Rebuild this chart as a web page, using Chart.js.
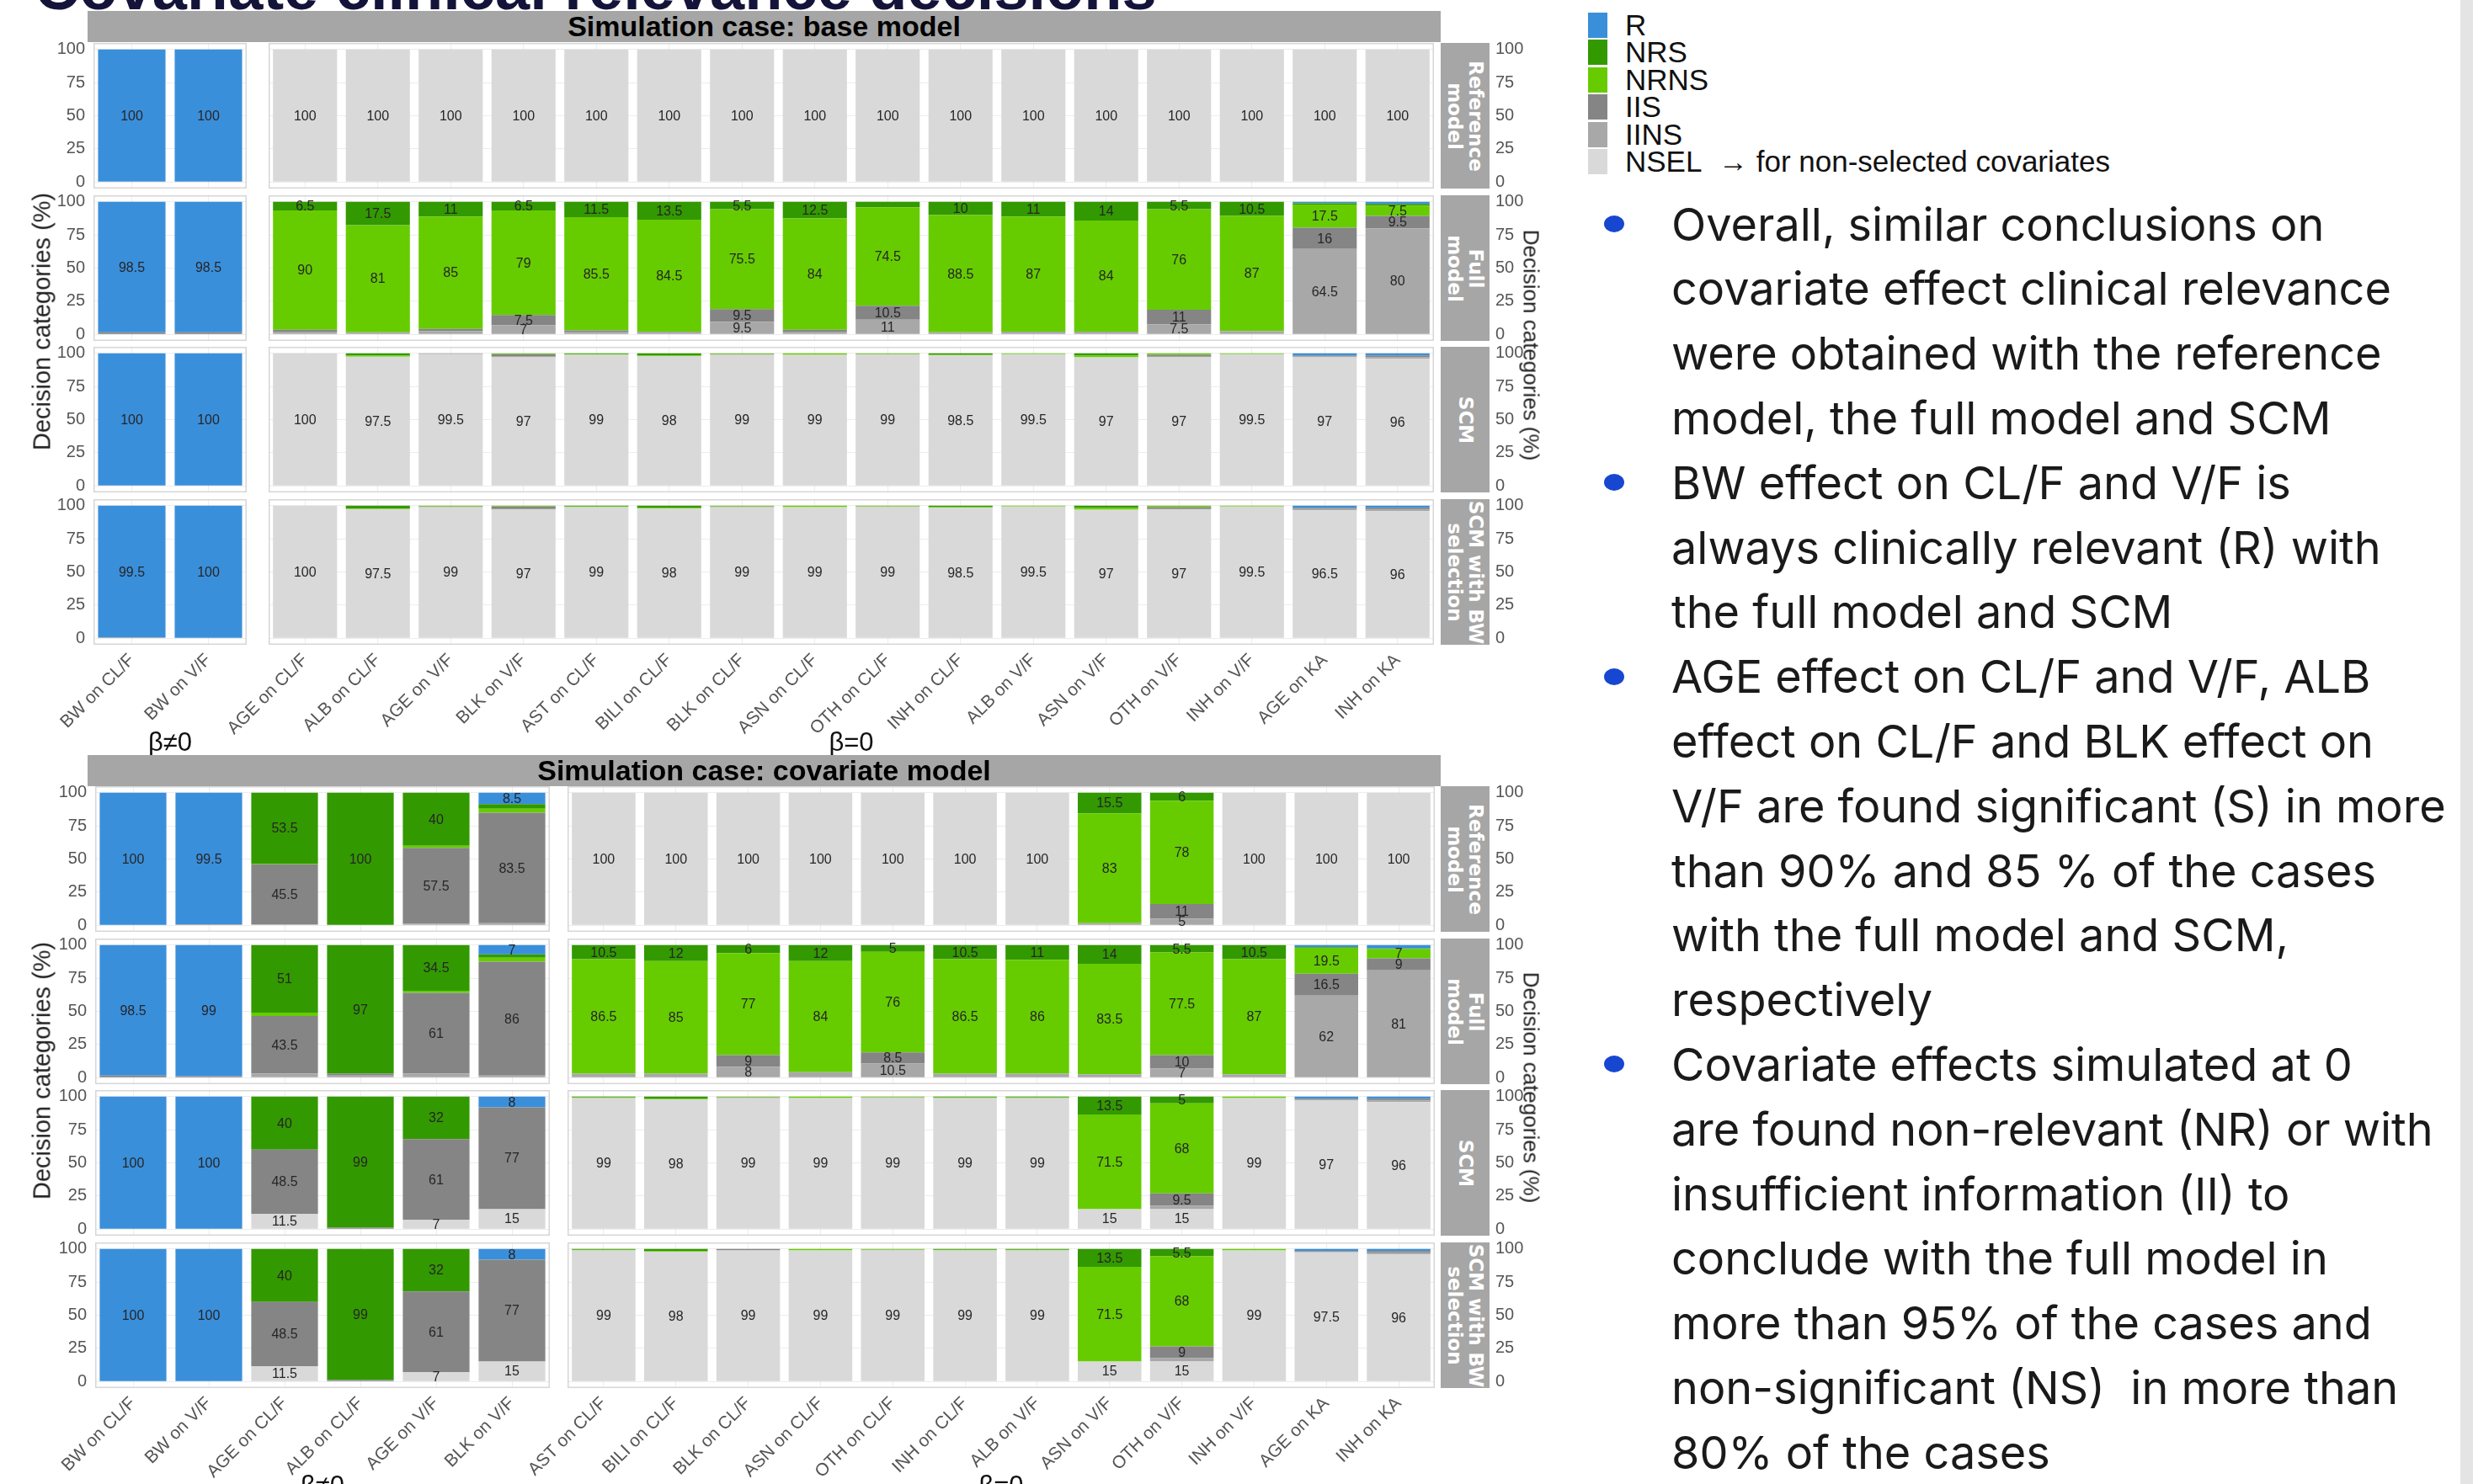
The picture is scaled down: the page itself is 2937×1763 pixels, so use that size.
<!DOCTYPE html>
<html>
<head>
<meta charset="utf-8">
<script src="https://cdn.jsdelivr.net/npm/chart.js@4.4.1/dist/chart.umd.min.js"></script>
<style>
  html, body { margin: 0; padding: 0; background: #fff; }
  body { width: 2937px; height: 1763px; overflow: hidden; position: relative; font-family: "Liberation Sans", Arial, sans-serif; }
  .abs { position: absolute; }
  canvas.panel { position: absolute; }
  .bar-title { position: absolute; background: #A6A6A6; color: #000; font-weight: bold; font-size: 34px; text-align: center; line-height: 37px; }
  .strip { position: absolute; background: #A6A6A6; overflow: hidden; }
  .strip span { position: absolute; left: 50%; top: 50%; transform: translate(-50%, -50%) rotate(90deg); color: #fff; font-family: "DejaVu Sans", sans-serif; font-weight: bold; font-size: 23px; line-height: 25px; text-align: center; white-space: pre; }
  .rot { position: absolute; white-space: nowrap; transform: translate(-50%, -50%) rotate(-90deg); }
  .rotcw { position: absolute; white-space: nowrap; transform: translate(-50%, -50%) rotate(90deg); }
  .legend-sw { position: absolute; left: 1886px; width: 23px; height: 30px; }
  .legend-tx { position: absolute; left: 1930px; font-size: 35px; line-height: 35px; color: #111; white-space: nowrap; }
  .bul-line { position: absolute; left: 1985px; font-family: Inter, "Open Sans", sans-serif; font-size: 54px; line-height: 77px; color: #1a1a1a; white-space: pre; }
  .dot { position: absolute; width: 24px; height: 20px; border-radius: 50%; background: #1747D0; }
</style>
</head>
<body>
<div class="abs" style="left:41px; top:-51px; font-weight:bold; font-size:74px; line-height:74px; color:#14143a; white-space:nowrap;">Covariate clinical relevance decisions</div>
<div class="abs" style="left:2922px; top:0; width:15px; height:1763px; background:#E4E4E4;"></div>
<script>
// ---- decision categories (stack order from top to bottom in the legend) ----
const DECISIONS = ['R', 'NRS', 'NRNS', 'IIS', 'IINS', 'NSEL'];
const DECISION_COLORS = ['#3A8FDB', '#339900', '#66CC00', '#858585', '#A8A8A8', '#D9D9D9'];
const MODEL_ROWS = ['Reference\nmodel', 'Full\nmodel', 'SCM', 'SCM with BW\nselection'];
const Y_TICKS = [0, 25, 50, 75, 100];

// ---- covariate effects on the x axis ----
const BASE_CATS_NONZERO = ['BW on CL/F', 'BW on V/F'];
const BASE_CATS_ZERO = ['AGE on CL/F', 'ALB on CL/F', 'AGE on V/F', 'BLK on V/F', 'AST on CL/F', 'BILI on CL/F', 'BLK on CL/F', 'ASN on CL/F', 'OTH on CL/F', 'INH on CL/F', 'ALB on V/F', 'ASN on V/F', 'OTH on V/F', 'INH on V/F', 'AGE on KA', 'INH on KA'];
const COV_CATS_NONZERO = ['BW on CL/F', 'BW on V/F', 'AGE on CL/F', 'ALB on CL/F', 'AGE on V/F', 'BLK on V/F'];
const COV_CATS_ZERO = ['AST on CL/F', 'BILI on CL/F', 'BLK on CL/F', 'ASN on CL/F', 'OTH on CL/F', 'INH on CL/F', 'ALB on V/F', 'ASN on V/F', 'OTH on V/F', 'INH on V/F', 'AGE on KA', 'INH on KA'];

// ---- Simulation case: base model (values in %, BW first, then beta = 0 effects) ----
const BASE_REF_R    = [100, 100, 0, 0, 0, 0, 0, 0, 0, 0, 0, 0, 0, 0, 0, 0, 0, 0];
const BASE_REF_NRS  = [0, 0, 0, 0, 0, 0, 0, 0, 0, 0, 0, 0, 0, 0, 0, 0, 0, 0];
const BASE_REF_NRNS = [0, 0, 0, 0, 0, 0, 0, 0, 0, 0, 0, 0, 0, 0, 0, 0, 0, 0];
const BASE_REF_IIS  = [0, 0, 0, 0, 0, 0, 0, 0, 0, 0, 0, 0, 0, 0, 0, 0, 0, 0];
const BASE_REF_IINS = [0, 0, 0, 0, 0, 0, 0, 0, 0, 0, 0, 0, 0, 0, 0, 0, 0, 0];
const BASE_REF_NSEL = [0, 0, 100, 100, 100, 100, 100, 100, 100, 100, 100, 100, 100, 100, 100, 100, 100, 100];

const BASE_FULL_R    = [98.5, 98.5, 0, 0, 0, 0, 0, 0, 0, 0, 0, 0, 0, 0, 0, 0, 1, 1.5];
const BASE_FULL_NRS  = [0, 0, 6.5, 17.5, 11, 6.5, 11.5, 13.5, 5.5, 12.5, 4, 10, 11, 14, 5.5, 10.5, 1, 1.5];
const BASE_FULL_NRNS = [0, 0, 90, 81, 85, 79, 85.5, 84.5, 75.5, 84, 74.5, 88.5, 87, 84, 76, 87, 17.5, 7.5];
const BASE_FULL_IIS  = [1.5, 1.5, 1.5, 0, 1.5, 7.5, 1, 0, 9.5, 1.5, 10.5, 0, 0, 0, 11, 0, 16, 9.5];
const BASE_FULL_IINS = [0, 0, 2, 1.5, 2.5, 7, 2, 2, 9.5, 2, 11, 1.5, 2, 2, 7.5, 2.5, 64.5, 80];
const BASE_FULL_NSEL = [0, 0, 0, 0, 0, 0, 0, 0, 0, 0, 0, 0, 0, 0, 0, 0, 0, 0];

const BASE_SCM_R    = [100, 100, 0, 0, 0, 0, 0, 0, 0, 0, 0, 0, 0, 0, 0, 0, 1.5, 1.5];
const BASE_SCM_NRS  = [0, 0, 0, 1.5, 0, 0, 0.5, 1.5, 0, 0, 0, 1, 0, 1.5, 0, 0, 0, 0];
const BASE_SCM_NRNS = [0, 0, 0, 1, 0, 0.5, 0.5, 0.5, 0.5, 1, 0.5, 0.5, 0.5, 1.5, 1, 0.5, 0, 0];
const BASE_SCM_IIS  = [0, 0, 0, 0, 0, 1.5, 0, 0, 0.5, 0, 0, 0, 0, 0, 1.5, 0, 0.5, 1.5];
const BASE_SCM_IINS = [0, 0, 0, 0, 0.5, 1, 0, 0, 0, 0, 0.5, 0, 0, 0, 0.5, 0, 1, 1];
const BASE_SCM_NSEL = [0, 0, 100, 97.5, 99.5, 97, 99, 98, 99, 99, 99, 98.5, 99.5, 97, 97, 99.5, 97, 96];

const BASE_SCMBW_R    = [99.5, 100, 0, 0, 0, 0, 0, 0, 0, 0, 0, 0, 0, 0, 0, 0, 1.5, 1.5];
const BASE_SCMBW_NRS  = [0, 0, 0, 2, 0, 0, 0.5, 1.5, 0, 0, 0, 1, 0, 1.5, 0, 0, 0, 0];
const BASE_SCMBW_NRNS = [0, 0, 0, 0.5, 0.5, 0.5, 0.5, 0.5, 0.5, 1, 0.5, 0.5, 0.5, 1.5, 1, 0.5, 0, 0];
const BASE_SCMBW_IIS  = [0.5, 0, 0, 0, 0.5, 2, 0, 0, 0.5, 0, 0, 0, 0, 0, 1.5, 0, 1, 1.5];
const BASE_SCMBW_IINS = [0, 0, 0, 0, 0, 0.5, 0, 0, 0, 0, 0.5, 0, 0, 0, 0.5, 0, 1, 1];
const BASE_SCMBW_NSEL = [0, 0, 100, 97.5, 99, 97, 99, 98, 99, 99, 99, 98.5, 99.5, 97, 97, 99.5, 96.5, 96];

// ---- Simulation case: covariate model (six effects with beta != 0, then beta = 0 effects) ----
const COV_REF_R    = [100, 99.5, 0, 0, 0, 8.5, 0, 0, 0, 0, 0, 0, 0, 0, 0, 0, 0, 0];
const COV_REF_NRS  = [0, 0, 53.5, 100, 40, 3.5, 0, 0, 0, 0, 0, 0, 0, 15.5, 6, 0, 0, 0];
const COV_REF_NRNS = [0, 0, 0.5, 0, 1.5, 3, 0, 0, 0, 0, 0, 0, 0, 83, 78, 0, 0, 0];
const COV_REF_IIS  = [0, 0.5, 45.5, 0, 57.5, 83.5, 0, 0, 0, 0, 0, 0, 0, 0, 11, 0, 0, 0];
const COV_REF_IINS = [0, 0, 0.5, 0, 1, 1.5, 0, 0, 0, 0, 0, 0, 0, 1.5, 5, 0, 0, 0];
const COV_REF_NSEL = [0, 0, 0, 0, 0, 0, 100, 100, 100, 100, 100, 100, 100, 0, 0, 100, 100, 100];

const COV_FULL_R    = [98.5, 99, 0, 0, 0, 7, 0, 0, 0, 0, 0, 0, 0, 0, 0, 0, 1.5, 2.5];
const COV_FULL_NRS  = [0, 0, 51, 97, 34.5, 2.5, 10.5, 12, 6, 12, 5, 10.5, 11, 14, 5.5, 10.5, 0.5, 0.5];
const COV_FULL_NRNS = [0, 0, 2.5, 0, 1.5, 3, 86.5, 85, 77, 84, 76, 86.5, 86, 83.5, 77.5, 87, 19.5, 7];
const COV_FULL_IIS  = [1.5, 1, 43.5, 1.5, 61, 86, 0, 0, 9, 0, 8.5, 0, 0, 0, 10, 0, 16.5, 9];
const COV_FULL_IINS = [0, 0, 3, 1.5, 3, 1.5, 3, 3, 8, 4, 10.5, 3, 3, 2.5, 7, 2.5, 62, 81];
const COV_FULL_NSEL = [0, 0, 0, 0, 0, 0, 0, 0, 0, 0, 0, 0, 0, 0, 0, 0, 0, 0];

const COV_SCM_R    = [100, 100, 0, 0, 0, 8, 0, 0, 0, 0, 0, 0, 0, 0, 0, 0, 1.5, 1.5];
const COV_SCM_NRS  = [0, 0, 40, 99, 32, 0, 0.5, 1.5, 0, 0, 0, 0.5, 0.5, 13.5, 5, 0, 0, 0];
const COV_SCM_NRNS = [0, 0, 0, 0, 0, 0, 0.5, 0.5, 0.5, 1, 0.5, 0.5, 0.5, 71.5, 68, 1, 0, 0];
const COV_SCM_IIS  = [0, 0, 48.5, 1, 61, 77, 0, 0, 0.5, 0, 0, 0, 0, 0, 9.5, 0, 0.5, 1.5];
const COV_SCM_IINS = [0, 0, 0, 0, 0, 0, 0, 0, 0, 0, 0.5, 0, 0, 0, 2.5, 0, 1, 1];
const COV_SCM_NSEL = [0, 0, 11.5, 0, 7, 15, 99, 98, 99, 99, 99, 99, 99, 15, 15, 99, 97, 96];

const COV_SCMBW_R    = [100, 100, 0, 0, 0, 8, 0, 0, 0, 0, 0, 0, 0, 0, 0, 0, 1.5, 1.5];
const COV_SCMBW_NRS  = [0, 0, 40, 99, 32, 0, 0.5, 1.5, 0, 0, 0, 0.5, 0.5, 13.5, 5.5, 0, 0, 0];
const COV_SCMBW_NRNS = [0, 0, 0, 0, 0, 0, 0.5, 0.5, 0, 1, 0.5, 0.5, 0.5, 71.5, 68, 1, 0, 0];
const COV_SCMBW_IIS  = [0, 0, 48.5, 1, 61, 77, 0, 0, 1, 0, 0, 0, 0, 0, 9, 0, 0.5, 1.5];
const COV_SCMBW_IINS = [0, 0, 0, 0, 0, 0, 0, 0, 0, 0, 0.5, 0, 0, 0, 2.5, 0, 0.5, 1];
const COV_SCMBW_NSEL = [0, 0, 11.5, 0, 7, 15, 99, 98, 99, 99, 99, 99, 99, 15, 15, 99, 97.5, 96];

// series per model row, in DECISIONS order
const BASE_ROWS = [
  [BASE_REF_R, BASE_REF_NRS, BASE_REF_NRNS, BASE_REF_IIS, BASE_REF_IINS, BASE_REF_NSEL],
  [BASE_FULL_R, BASE_FULL_NRS, BASE_FULL_NRNS, BASE_FULL_IIS, BASE_FULL_IINS, BASE_FULL_NSEL],
  [BASE_SCM_R, BASE_SCM_NRS, BASE_SCM_NRNS, BASE_SCM_IIS, BASE_SCM_IINS, BASE_SCM_NSEL],
  [BASE_SCMBW_R, BASE_SCMBW_NRS, BASE_SCMBW_NRNS, BASE_SCMBW_IIS, BASE_SCMBW_IINS, BASE_SCMBW_NSEL]
];
const COV_ROWS = [
  [COV_REF_R, COV_REF_NRS, COV_REF_NRNS, COV_REF_IIS, COV_REF_IINS, COV_REF_NSEL],
  [COV_FULL_R, COV_FULL_NRS, COV_FULL_NRNS, COV_FULL_IIS, COV_FULL_IINS, COV_FULL_NSEL],
  [COV_SCM_R, COV_SCM_NRS, COV_SCM_NRNS, COV_SCM_IIS, COV_SCM_IINS, COV_SCM_NSEL],
  [COV_SCMBW_R, COV_SCMBW_NRS, COV_SCMBW_NRNS, COV_SCMBW_IIS, COV_SCMBW_IINS, COV_SCMBW_NSEL]
];

// ---------------- layout ----------------
const PANEL_H = 173;
const Y_MIN = -5, Y_MAX = 105;
const GRID = 'rgba(0,0,0,0.07)';
const STRIP_X = 1711, STRIP_W = 58;
const RIGHT_LABEL_X = 1776;

const BLOCKS = [
  { title: 'Simulation case: base model', titleY: 13, rowTops: [51, 232, 412, 593],
    rows: BASE_ROWS, cats: [BASE_CATS_NONZERO, BASE_CATS_ZERO],
    left: { x: 111, w: 182 }, right: { x: 319, w: 1384 },
    yTitleL: 382, yTitleR: 410 },
  { title: 'Simulation case: covariate model', titleY: 897, rowTops: [934, 1115, 1295, 1476],
    rows: COV_ROWS, cats: [COV_CATS_NONZERO, COV_CATS_ZERO],
    left: { x: 113, w: 540 }, right: { x: 674, w: 1030 },
    yTitleL: 1272, yTitleR: 1292 }
];

const framePlugin = {
  id: 'panelFrame',
  beforeDatasetsDraw(chart) {
    const { ctx, chartArea: a } = chart;
    ctx.save();
    ctx.strokeStyle = '#D6D6D6';
    ctx.lineWidth = 1.5;
    ctx.strokeRect(a.left + 0.75, a.top + 0.75, a.width - 1.5, a.height - 1.5);
    ctx.restore();
  }
};

const valuePlugin = {
  id: 'segmentValues',
  afterDatasetsDraw(chart) {
    const ctx = chart.ctx;
    ctx.save();
    ctx.font = '16px "Liberation Sans", Arial, sans-serif';
    ctx.fillStyle = '#262626';
    ctx.textAlign = 'center';
    ctx.textBaseline = 'middle';
    chart.data.datasets.forEach((ds, di) => {
      chart.getDatasetMeta(di).data.forEach((bar, i) => {
        const v = ds.data[i];
        if (v >= 5) {
          const p = bar.getProps(['x', 'y', 'base'], true);
          ctx.fillText(String(v), p.x, (p.y + p.base) / 2 + 1);
        }
      });
    });
    ctx.restore();
  }
};

function addPanel(opts) {
  const { x, w, top, labels, values, side, showX } = opts;
  const padT = 14;
  const xh = showX ? 150 : 0;
  const padB = showX ? 0 : 14;
  const axisW = side === 'left' ? 60 : (RIGHT_LABEL_X + 45 - (x + w));
  const padL = side === 'left' ? 50 : (showX ? 170 : 4);
  const padR = side === 'left' ? 4 : 0;
  const cLeft = side === 'left' ? x - axisW - padL : x - padL;
  const cw = side === 'left' ? padL + axisW + w + padR : padL + w + axisW;
  const ch = padT + PANEL_H + xh + padB;

  const cv = document.createElement('canvas');
  cv.className = 'panel';
  cv.width = cw; cv.height = ch;
  cv.style.left = cLeft + 'px';
  cv.style.top = (top - padT) + 'px';
  cv.style.width = cw + 'px'; cv.style.height = ch + 'px';
  document.body.appendChild(cv);

  // draw from the bottom of the stack upward: NSEL ... R
  const datasets = DECISIONS.map((d, k) => ({
    label: d,
    data: values[k],
    backgroundColor: DECISION_COLORS[k],
    borderWidth: 0,
    barPercentage: 0.88,
    categoryPercentage: 1
  })).reverse();

  new Chart(cv, {
    type: 'bar',
    data: { labels, datasets },
    options: {
      responsive: false,
      animation: false,
      devicePixelRatio: 1,
      layout: { padding: { left: padL, right: padR, top: padT, bottom: padB } },
      plugins: { legend: { display: false }, tooltip: { enabled: false } },
      scales: {
        x: {
          stacked: true,
          offset: true,
          grid: { offset: false, color: GRID, drawTicks: false },
          border: { display: false },
          ticks: {
            display: showX, autoSkip: false, minRotation: 45, maxRotation: 45, padding: 6,
            color: '#555', font: { family: '"Liberation Sans", Arial, sans-serif', size: 21 }
          },
          afterFit(s) { s.height = xh; s.paddingLeft = 0; s.paddingRight = 0; s.paddingTop = 0; s.paddingBottom = 0; }
        },
        y: {
          stacked: true,
          min: Y_MIN, max: Y_MAX,
          position: side === 'left' ? 'left' : 'right',
          afterBuildTicks(s) { s.ticks = Y_TICKS.map(v => ({ value: v })); },
          grid: { color: GRID, drawTicks: false },
          border: { display: false },
          ticks: {
            padding: side === 'left' ? 10 : (RIGHT_LABEL_X - (x + w)),
            color: '#555', font: { family: '"Liberation Sans", Arial, sans-serif', size: 20 },
            callback: v => String(v)
          },
          afterFit(s) { s.width = axisW; s.paddingTop = 0; s.paddingBottom = 0; }
        }
      }
    },
    plugins: [framePlugin, valuePlugin]
  });
}

function addDiv(cls, style, text) {
  const d = document.createElement('div');
  d.className = cls;
  Object.assign(d.style, style);
  if (text !== undefined) d.textContent = text;
  document.body.appendChild(d);
  return d;
}

BLOCKS.forEach(b => {
  const nLeft = b.cats[0].length;
  // block title bar
  addDiv('bar-title', { left: '104px', top: b.titleY + 'px', width: (STRIP_X - 104) + 'px', height: '37px' }, b.title);

  b.rowTops.forEach((top, r) => {
    const vals = b.rows[r];
    const last = r === b.rowTops.length - 1;
    addPanel({ x: b.left.x, w: b.left.w, top, labels: b.cats[0],
      values: vals.map(a => a.slice(0, nLeft)), side: 'left', showX: last });
    addPanel({ x: b.right.x, w: b.right.w, top, labels: b.cats[1],
      values: vals.map(a => a.slice(nLeft)), side: 'right', showX: last });
    const s = addDiv('strip', { left: STRIP_X + 'px', top: top + 'px', width: STRIP_W + 'px', height: PANEL_H + 'px' });
    const sp = document.createElement('span');
    sp.textContent = MODEL_ROWS[r];
    s.appendChild(sp);
  });

  // axis titles
  addDiv('rot', { left: '50px', top: b.yTitleL + 'px', fontSize: '29px', color: '#222' }, 'Decision categories (%)');
  addDiv('rotcw', { left: '1818px', top: b.yTitleR + 'px', fontSize: '26px', color: '#222' }, 'Decision categories (%)');

  // beta groups under the x axis
  const bottom = b.rowTops[3] + PANEL_H;
  addDiv('abs', { left: (b.left.x + b.left.w / 2) + 'px', top: (bottom + 116) + 'px', transform: 'translate(-50%,-50%)', fontSize: '31px', color: '#111', whiteSpace: 'nowrap' }, 'β≠0');
  addDiv('abs', { left: (b.right.x + b.right.w / 2) + 'px', top: (bottom + 116) + 'px', transform: 'translate(-50%,-50%)', fontSize: '31px', color: '#111', whiteSpace: 'nowrap' }, 'β=0');
});

// legend
const LEGEND_TOPS = [15, 47, 80, 112, 145, 177];
DECISIONS.forEach((d, k) => {
  addDiv('legend-sw', { top: LEGEND_TOPS[k] + 'px', background: DECISION_COLORS[k] });
  addDiv('legend-tx', { top: (LEGEND_TOPS[k] - 3) + 'px' }, d);
});
addDiv('legend-tx', { left: '2041px', top: (LEGEND_TOPS[5] - 3) + 'px' }, '\u2192 for non-selected covariates');

// bullet points
const BULLETS = [
  ['Overall, similar conclusions on', 'covariate effect clinical relevance', 'were obtained with the reference', 'model, the full model and SCM'],
  ['BW effect on CL/F and V/F is', 'always clinically relevant (R) with', 'the full model and SCM'],
  ['AGE effect on CL/F and V/F, ALB', 'effect on CL/F and BLK effect on', 'V/F are found significant (S) in more', 'than 90% and 85 % of the cases', 'with the full model and SCM,', 'respectively'],
  ['Covariate effects simulated at 0', 'are found non-relevant (NR) or with', 'insufficient information (II) to', 'conclude with the full model in', 'more than 95% of the cases and', 'non-significant (NS)  in more than', '80% of the cases']
];
let lineIdx = 0;
BULLETS.forEach(lines => {
  const cy0 = 266 + 76.8 * lineIdx;
  addDiv('dot', { left: (1917 - 12) + 'px', top: (cy0 - 10) + 'px' });
  lines.forEach(t => {
    const cy = 266 + 76.8 * lineIdx;
    addDiv('bul-line', { top: (cy - 38.5) + 'px' }, t);
    lineIdx++;
  });
});
</script>
</body>
</html>
